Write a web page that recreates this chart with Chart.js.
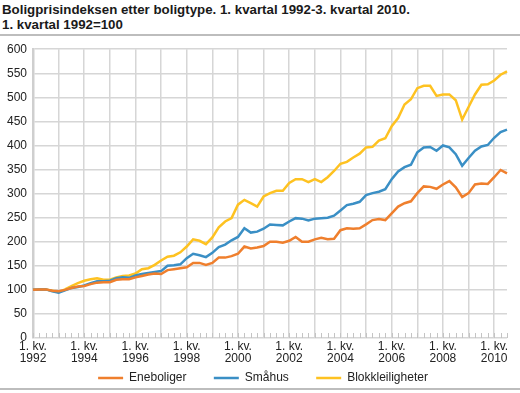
<!DOCTYPE html>
<html>
<head>
<meta charset="utf-8">
<script src="https://cdn.jsdelivr.net/npm/chart.js@4"></script>
<style>
  html, body { margin: 0; padding: 0; background: #fff; }
  body { position: relative; width: 520px; height: 393px; overflow: hidden; font-family: "Liberation Sans", Arial, sans-serif; }
  .title { font-weight: bold; font-size: 13.3px; line-height: 15px; color: #1a1a1a; padding: 2px 0 0 2px; height: 32px; }
  .rule { height: 0; border-top: 2px solid #bdbdbd; }
  .wrap { position: relative; width: 520px; height: 358px; }
  .bottom { position: absolute; left: 0; top: 388px; width: 520px; height: 0; border-top: 2px solid #bdbdbd; }
</style>
</head>
<body>
<div class="title">Boligprisindeksen etter boligtype. 1. kvartal 1992-3. kvartal 2010.<br>1. kvartal 1992=100</div>
<div class="rule"></div>
<div class="wrap"><canvas id="chart"></canvas></div>
<div class="bottom"></div>
<script>
// Quarterly index values, 1. kv. 1992 - 3. kv. 2010 (1. kv. 1992 = 100)
const years = [];
for (let y = 1992; y <= 2010; y++) years.push(y);
const quarters = [];
years.forEach(y => [1, 2, 3, 4].forEach(q => {
    if (y < 2010 || q <= 3) quarters.push(q + '. kv. ' + y);
}));

const eneboliger = [
    100, 101, 101, 98,   97, 100, 104, 107,   108, 112, 115, 116,   116, 121, 122, 122,
    126, 129, 132, 134,  133, 141, 143, 145,  147, 156, 156, 152,   156, 167, 167, 170,
    175, 190, 186, 188,  191, 200, 200, 198,  202, 210, 200, 200,   205, 208, 205, 206,
    224, 228, 227, 228,  236, 245, 247, 245,  259, 273, 280, 284,   301, 315, 314, 310,
    319, 326, 313, 293,  301, 319, 321, 320,  334, 349, 342
];
const smahus = [
    100, 101, 101, 97,   94, 99, 104, 106,    109, 114, 118, 118,   119, 124, 126, 125,
    130, 133, 135, 137,  139, 150, 151, 153,  166, 175, 172, 168,   177, 189, 194, 203,
    210, 228, 219, 221,  227, 236, 235, 234,  242, 249, 248, 244,   248, 249, 250, 254,
    265, 276, 279, 283,  297, 301, 304, 309,  330, 346, 355, 360,   386, 396, 397, 389,
    400, 396, 382, 358,  374, 389, 398, 401,  416, 428, 433
];
const blokk = [
    100, 101, 101, 98,   95, 101, 108, 114,   119, 122, 124, 121,   121, 126, 129, 130,
    134, 143, 145, 152,  161, 169, 171, 178,  190, 205, 202, 195,   209, 230, 242, 249,
    277, 287, 280, 273,  294, 301, 306, 306,  322, 330, 330, 324,   330, 324, 334, 347,
    362, 366, 375, 383,  396, 397, 410, 415,  440, 457, 485, 496,   519, 524, 524, 503,
    506, 506, 494, 454,  480, 506, 526, 527,  535, 547, 554
];
const seriesNames = ['Eneboliger', 'Småhus', 'Blokkleiligheter'];
const yTicks = { min: 0, max: 600, step: 50 };

const colors = ['#ef7f2d', '#3a8fc5', '#fec221'];
const gridColor = '#d6d6d6';
const fontFamily = '"Liberation Sans", Arial, sans-serif';

// small quarter ticks along the base line
const minorTicks = {
    id: 'minorTicks',
    beforeDatasetsDraw(chart) {
        const x = chart.scales.x, y = chart.scales.y;
        const ctx = chart.ctx;
        const base = y.getPixelForValue(0);
        ctx.save();
        ctx.strokeStyle = '#c4c4c4';
        ctx.lineWidth = 1;
        ctx.beginPath();
        quarters.forEach((q, i) => {
            const px = Math.round(x.getPixelForValue(i)) + 0.5;
            ctx.moveTo(px, base);
            ctx.lineTo(px, base - 5);
        });
        ctx.stroke();
        ctx.restore();
    }
};

new Chart(document.getElementById('chart'), {
    type: 'line',
    data: {
        labels: quarters,
        datasets: [eneboliger, smahus, blokk].map((d, i) => ({
            label: seriesNames[i],
            data: d,
            borderColor: colors[i],
            backgroundColor: colors[i],
            borderWidth: 2.5,
            pointRadius: 0,
            tension: 0,
            fill: false
        }))
    },
    options: {
        responsive: true,
        maintainAspectRatio: false,
        animation: false,
        layout: { padding: { left: 6, right: 0, top: 7, bottom: 0 } },
        plugins: {
            legend: {
                position: 'bottom',
                labels: {
                    color: '#222',
                    font: { family: fontFamily, size: 12 },
                    usePointStyle: true,
                    pointStyle: 'line',
                    pointStyleWidth: 25,
                    padding: 4,
                    // extra room after each name, as in the original legend
                    generateLabels: chart => {
                        const items = Chart.defaults.plugins.legend.labels.generateLabels(chart);
                        items.forEach((it, i) => {
                            if (i < items.length - 1) it.text = it.text + '       ';
                        });
                        return items;
                    }
                }
            },
            tooltip: { enabled: false }
        },
        scales: {
            x: {
                grid: {
                    color: ctx => (ctx.index % 4 === 0 ? gridColor : 'transparent'),
                    lineWidth: 1.5,
                    drawTicks: false
                },
                border: { display: false },
                ticks: {
                    autoSkip: false,
                    maxRotation: 0,
                    padding: 3,
                    color: '#222',
                    font: { family: fontFamily, size: 12, lineHeight: 1.0 },
                    callback: function(value, index) {
                        const yr = 1992 + Math.floor(index / 4);
                        if (index % 4 === 0 && yr % 2 === 0) return ['1. kv.', String(yr)];
                        return '';
                    }
                }
            },
            y: {
                min: yTicks.min,
                max: yTicks.max,
                afterFit: s => { s.width = 27; },
                grid: { color: gridColor, lineWidth: 1.5, drawTicks: false },
                border: { display: true, color: '#cfcfcf', width: 2.5 },
                ticks: {
                    stepSize: yTicks.step,
                    padding: 6,
                    color: '#222',
                    font: { family: fontFamily, size: 12 }
                }
            },
            // empty strip on the right of the plot
            yRight: {
                position: 'right',
                afterFit: s => { s.width = 13; },
                grid: { display: false },
                border: { display: false },
                ticks: { display: false }
            }
        }
    },
    plugins: [minorTicks]
});
</script>
</body>
</html>
